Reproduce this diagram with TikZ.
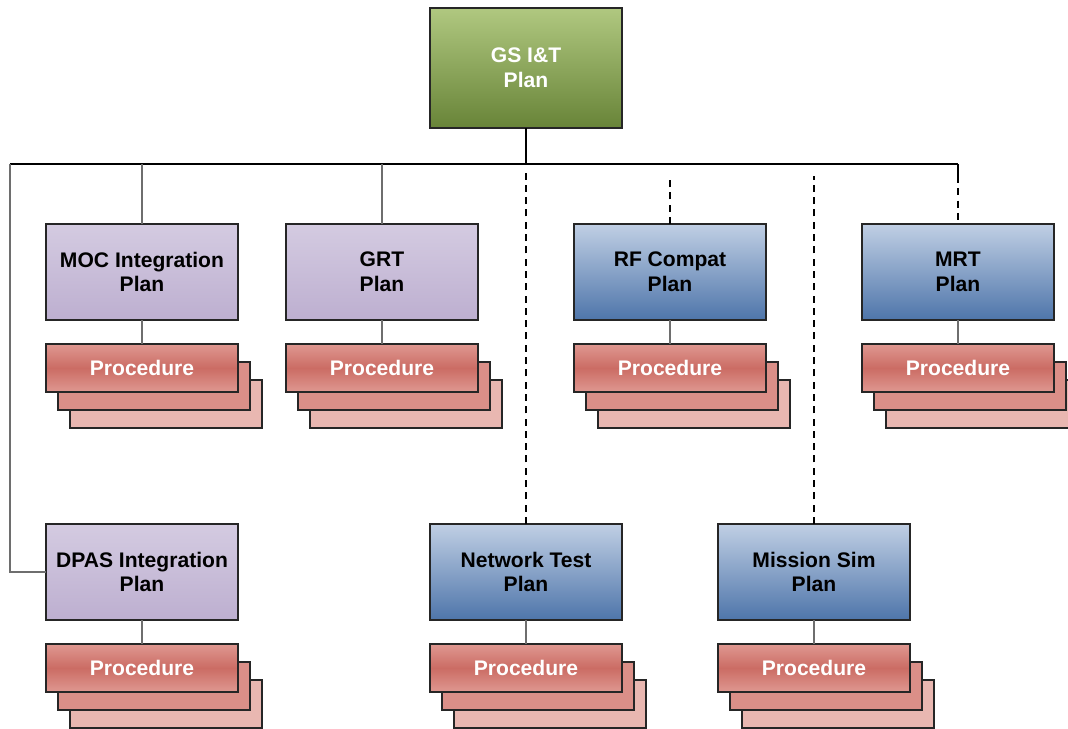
\documentclass[tikz,border=0pt]{standalone}
\usepackage{fontspec}
\setmainfont{Liberation Sans}
\usetikzlibrary{positioning}

\definecolor{gstop}{RGB}{176,200,128}
\definecolor{gsbot}{RGB}{104,132,56}
\definecolor{lavtop}{RGB}{212,203,225}
\definecolor{lavbot}{RGB}{189,175,208}
\definecolor{bluetop}{RGB}{192,207,228}
\definecolor{bluebot}{RGB}{78,117,170}
\definecolor{proclight}{RGB}{223,152,145}
\definecolor{procdark}{RGB}{203,108,100}
\definecolor{cardmid}{RGB}{219,143,136}
\definecolor{cardpale}{RGB}{233,183,177}
\definecolor{linkgray}{RGB}{110,110,110}

\begin{document}
\begin{tikzpicture}[
    node distance=0.96cm,
    every node/.style={font=\bfseries\fontsize{12}{14}\selectfont},
    planbox/.style={draw=black!85, line width=0.6pt, align=center, minimum width=3.84cm, minimum height=1.92cm, inner sep=0pt, outer sep=0pt},
    plangreen/.style={planbox, top color=gstop, bottom color=gsbot, text=white},
    planlav/.style={planbox, top color=lavtop, bottom color=lavbot},
    planblue/.style={planbox, top color=bluetop, bottom color=bluebot},
    card/.style={draw=black!85, line width=0.6pt, minimum width=3.84cm, minimum height=0.96cm, inner sep=0pt, outer sep=0pt},
    proc/.style={card, top color=proclight, bottom color=proclight, middle color=procdark, text=white},
    trunk/.style={black, line width=1.2pt},
    bus/.style={black, line width=0.7pt},
    link/.style={linkgray, line width=0.7pt},
    dashline/.style={black, line width=1.1pt, dash pattern=on 4pt off 3pt}
]
\useasboundingbox (0,0) rectangle (21.36,-14.58);

% plans
\node[plangreen, minimum height=2.4cm] (gs) at (10.52,-1.36) {GS I\&T\\Plan};
\node[planlav] (moc) at (2.84,-5.44) {MOC Integration\\Plan};
\node[planlav, right=of moc] (grt) {GRT\\Plan};
\node[planblue, right=1.92cm of grt] (rf) {RF Compat\\Plan};
\node[planblue, right=1.92cm of rf] (mrt) {MRT\\Plan};
\node[planlav, below=4.08cm of moc] (dpas) {DPAS Integration\\Plan};
\node[planblue, right=3.84cm of dpas] (net) {Network Test\\Plan};
\node[planblue, right=1.92cm of net] (msim) {Mission Sim\\Plan};

% procedure stacks
\foreach \p in {moc,grt,rf,mrt,dpas,net,msim} {
  \node[card, fill=cardpale, below=0.48cm of \p, xshift=0.48cm, yshift=-0.72cm] (\p-c3) {};
  \node[card, fill=cardmid, below=0.48cm of \p, xshift=0.24cm, yshift=-0.36cm] (\p-c2) {};
  \node[proc, below=0.48cm of \p] (\p-proc) {Procedure};
  \draw[link] (\p) -- (\p-proc);
}

% connectors
\coordinate (busL) at (0.2,-3.28);
\coordinate (busR) at (mrt.north |- busL);
\coordinate (mrttick) at ([yshift=-0.24cm]busR);
\draw[trunk] (gs) -- (gs.south |- busL);
\draw[bus] (busL) -- (busR);
\draw[link] (busL) |- (dpas);
\draw[link] (moc) -- (moc.north |- busL);
\draw[link] (grt) -- (grt.north |- busL);
\draw[bus] (busR) -- (mrttick);
\draw[dashline] (mrttick) -- (mrt);
\draw[dashline] (net) -- ([yshift=-0.12cm]net.north |- busL);
\draw[dashline] (rf) -- ([yshift=-0.24cm]rf.north |- busL);
\draw[dashline] (msim) -- ([yshift=-0.24cm]msim.north |- busL);
\end{tikzpicture}
\end{document}
